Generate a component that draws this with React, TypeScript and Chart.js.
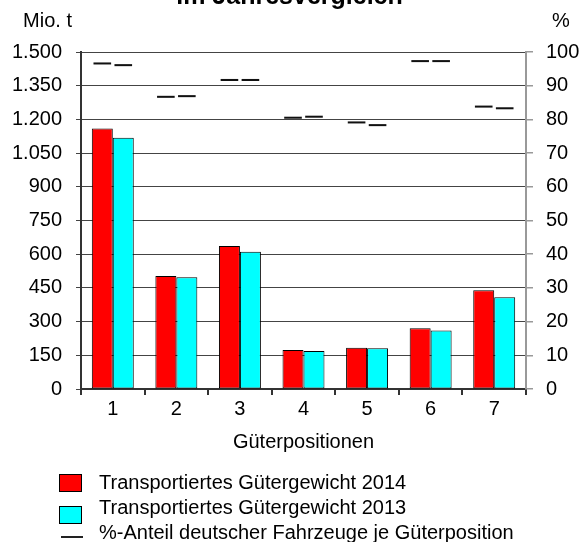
import React, { useEffect, useRef } from "react";
import { Chart, registerables } from "chart.js";

Chart.register(...registerables);

// ---- data ----
const categories = ["1", "2", "3", "4", "5", "6", "7"];
const weight2014 = [1160, 503, 636, 174, 184, 270, 439];
const weight2013 = [1118, 497, 611, 169, 181, 260, 408];
const share2014 = [96.6, 86.7, 91.7, 80.5, 79.1, 97.3, 83.8];
const share2013 = [96.1, 86.9, 91.7, 80.8, 78.3, 97.3, 83.3];

const titleText = "im Jahresvergleich";
const xAxisTitle = "Güterpositionen";
const leftUnit = "Mio. t";
const rightUnit = "%";
const legendLabels = [
  "Transportiertes Gütergewicht 2014",
  "Transportiertes Gütergewicht 2013",
  "%-Anteil deutscher Fahrzeuge je Güterposition",
];
const leftMax = 1500;
const leftStep = 150;
const rightMax = 100;
const rightStep = 10;

// ---- styles ----
const FONT = "'Liberation Sans', Arial, Helvetica, sans-serif";
const RED = "#FF0000";
const CYAN = "#00FFFF";
const DASH_HALF = 0.3; // half thickness of the share markers, in % units

const fmtDE = (v: number) => new Intl.NumberFormat("de-DE").format(v);

// legend swatch images (leading blank space indents the legend block)
const SW_W = 84;
const SW_X = 54;
function boxSwatch(color: string, h: number, top: number) {
  const c = document.createElement("canvas");
  c.width = SW_W;
  c.height = h;
  const g = c.getContext("2d")!;
  g.fillStyle = color;
  g.fillRect(SW_X, top, 23, 18);
  g.strokeStyle = "#000";
  g.lineWidth = 1;
  g.strokeRect(SW_X + 0.5, top + 0.5, 22, 17);
  return c;
}
function lineSwatch(h: number, y: number) {
  const c = document.createElement("canvas");
  c.width = SW_W;
  c.height = h;
  const g = c.getContext("2d")!;
  g.fillStyle = "#222";
  g.fillRect(SW_X + 2, y, 22, 2);
  return c;
}

const unitLabelsPlugin = {
  id: "unitLabels",
  afterDraw(chart: any) {
    const { ctx, chartArea, scales } = chart;
    ctx.save();
    ctx.font = `20px ${FONT}`;
    ctx.fillStyle = "#000";
    ctx.textBaseline = "middle";
    ctx.textAlign = "right";
    ctx.fillText(leftUnit, scales.y.right - 9, chartArea.top - 31);
    ctx.textAlign = "left";
    ctx.fillText(rightUnit, scales.y1.left + 26, chartArea.top - 31);
    ctx.restore();
  },
};

export default function App() {
  const ref = useRef<HTMLCanvasElement>(null);

  useEffect(() => {
    if (!ref.current) return;
    Chart.defaults.font.family = FONT;
    Chart.defaults.font.size = 20;
    Chart.defaults.color = "#000";

    const sw2014 = boxSwatch(RED, 18, 0);
    const sw2013 = boxSwatch(CYAN, 32, 14);
    const swShare = lineSwatch(18, 12);

    const chart = new Chart(ref.current, {
      type: "bar",
      data: {
        labels: categories,
        datasets: [
          {
            label: legendLabels[0],
            data: weight2014,
            backgroundColor: RED,
            borderColor: "#000",
            borderWidth: 1,
            borderSkipped: false,
            stack: "a",
            yAxisID: "y",
            barPercentage: 1,
            categoryPercentage: 0.66,
          },
          {
            label: legendLabels[1],
            data: weight2013,
            backgroundColor: CYAN,
            borderColor: "#000",
            borderWidth: 1,
            borderSkipped: false,
            stack: "b",
            yAxisID: "y",
            barPercentage: 1,
            categoryPercentage: 0.66,
          },
          {
            label: legendLabels[2],
            data: share2014.map((v) => [v - DASH_HALF, v + DASH_HALF]),
            backgroundColor: "#111",
            borderWidth: 0,
            stack: "a",
            yAxisID: "y1",
            barPercentage: 0.84,
            categoryPercentage: 0.66,
          },
          {
            label: legendLabels[2] + " 2013",
            data: share2013.map((v) => [v - DASH_HALF, v + DASH_HALF]),
            backgroundColor: "#111",
            borderWidth: 0,
            stack: "b",
            yAxisID: "y1",
            barPercentage: 0.84,
            categoryPercentage: 0.66,
          },
        ] as any,
      },
      options: {
        animation: false,
        responsive: true,
        maintainAspectRatio: false,
        events: [],
        layout: { padding: 0 },
        plugins: {
          tooltip: { enabled: false },
          title: {
            display: true,
            text: titleText,
            color: "#000",
            font: { size: 25, weight: "bold", family: FONT },
            padding: { top: 0, bottom: 40 },
          },
          legend: {
            position: "bottom",
            align: "start",
            labels: {
              usePointStyle: true,
              pointStyleWidth: SW_W,
              boxHeight: 18,
              padding: 5,
              color: "#000",
              font: { size: 20, family: FONT },
              generateLabels: () => [
                { text: legendLabels[0], pointStyle: sw2014, datasetIndex: 0, hidden: false, lineWidth: 0 },
                { text: legendLabels[1], pointStyle: sw2013, datasetIndex: 1, hidden: false, lineWidth: 0 },
                { text: legendLabels[2], pointStyle: swShare, datasetIndex: 2, hidden: false, lineWidth: 0 },
              ] as any,
            },
          },
        },
        scales: {
          x: {
            offset: true,
            grid: {
              display: true,
              drawOnChartArea: false,
              drawTicks: true,
              tickLength: 6,
              color: "#333",
              lineWidth: 2,
              offset: true,
            },
            border: { display: true, color: "#333", width: 2 },
            ticks: { padding: 2, font: { size: 20, family: FONT }, color: "#000" },
            title: {
              display: true,
              text: xAxisTitle,
              color: "#000",
              font: { size: 20, family: FONT },
              padding: { top: 0, bottom: 14 },
            },
            afterFit: (scale: any) => {
              scale.height = 79;
            },
          },
          y: {
            position: "left",
            min: 0,
            max: leftMax,
            grid: { color: "#444", lineWidth: 1, tickLength: 5 },
            border: { display: true, color: "#333", width: 2 },
            ticks: {
              stepSize: leftStep,
              padding: 14,
              color: "#000",
              font: { size: 20, family: FONT },
              callback: (v: any) => fmtDE(Number(v)),
            },
            afterFit: (scale: any) => {
              scale.width = 81;
            },
          },
          y1: {
            position: "right",
            min: 0,
            max: rightMax,
            grid: {
              drawOnChartArea: false,
              drawTicks: true,
              tickLength: 7,
              color: "#999",
              lineWidth: 1.5,
            },
            border: { display: true, color: "#999", width: 2 },
            ticks: {
              stepSize: rightStep,
              padding: 13,
              color: "#000",
              font: { size: 20, family: FONT },
            },
            afterFit: (scale: any) => {
              scale.width = 53;
            },
          },
        },
      } as any,
      plugins: [unitLabelsPlugin],
    });
    return () => chart.destroy();
  }, []);

  return (
    <div
      style={{
        position: "fixed",
        left: 0,
        top: 0,
        width: 579,
        height: 542,
        overflow: "hidden",
        background: "#fff",
      }}
    >
      <div style={{ position: "absolute", left: 0, top: -18, width: 579, height: 571 }}>
        <canvas ref={ref} />
      </div>
    </div>
  );
}
